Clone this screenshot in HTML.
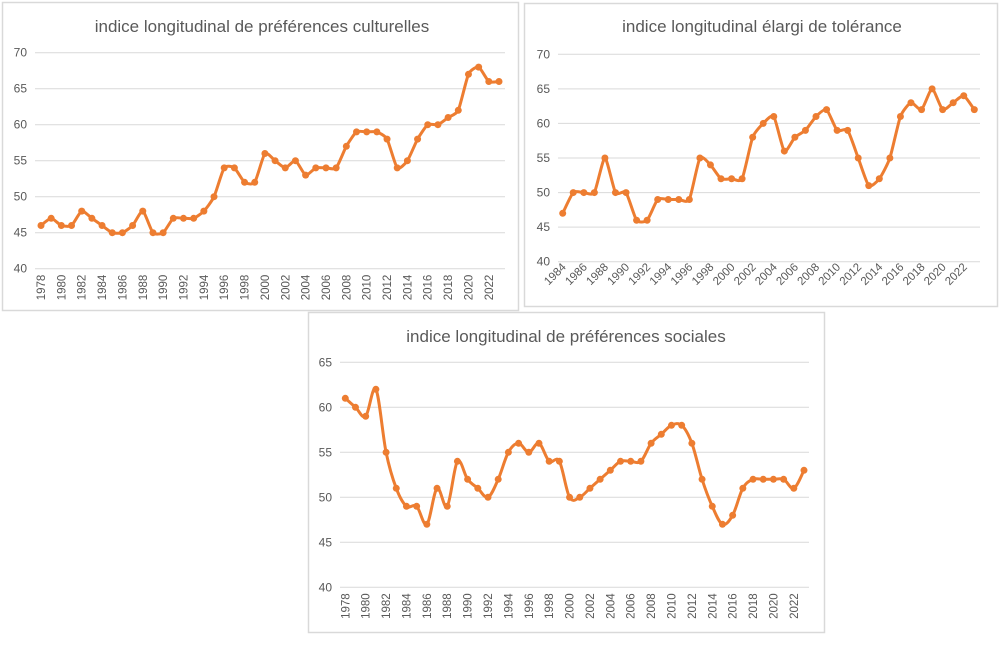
<!DOCTYPE html>
<html><head><meta charset="utf-8"><style>
body{margin:0;background:#fff;width:1000px;height:651px;overflow:hidden;font-family:"Liberation Sans",sans-serif}
svg{position:absolute;left:0;top:0}
</style></head><body>
<svg id="s" width="1000" height="651" xmlns="http://www.w3.org/2000/svg">
<rect x="0" y="0" width="1000" height="651" fill="#fff"/>
</svg>
<script>
const yearsA = [1978,1979,1980,1981,1982,1983,1984,1985,1986,1987,1988,1989,1990,1991,1992,1993,1994,1995,1996,1997,1998,1999,2000,2001,2002,2003,2004,2005,2006,2007,2008,2009,2010,2011,2012,2013,2014,2015,2016,2017,2018,2019,2020,2021,2022,2023];
const culturelles = [46,47,46,46,48,47,46,45,45,46,48,45,45,47,47,47,48,50,54,54,52,52,56,55,54,55,53,54,54,54,57,59,59,59,58,54,55,58,60,60,61,62,67,68,66,66];
const yearsB = [1984,1985,1986,1987,1988,1989,1990,1991,1992,1993,1994,1995,1996,1997,1998,1999,2000,2001,2002,2003,2004,2005,2006,2007,2008,2009,2010,2011,2012,2013,2014,2015,2016,2017,2018,2019,2020,2021,2022,2023];
const tolerance = [47,50,50,50,55,50,50,46,46,49,49,49,49,55,54,52,52,52,58,60,61,56,58,59,61,62,59,59,55,51,52,55,61,63,62,65,62,63,64,62];
const sociales = [61,60,59,62,55,51,49,49,47,51,49,54,52,51,50,52,55,56,55,56,54,54,50,50,51,52,53,54,54,54,56,57,58,58,56,52,49,47,48,51,52,52,52,52,51,53];
const ticksA = [40,45,50,55,60,65,70];
const ticksC = [40,45,50,55,60,65];

const NS='http://www.w3.org/2000/svg';
const svg=document.getElementById('s');
function mk(tag,attrs,parent){const e=document.createElementNS(NS,tag);for(const k in attrs)e.setAttribute(k,attrs[k]);(parent||svg).appendChild(e);return e;}

function chart(cfg){
  const g=mk('g',{});
  
  
  const box=mk('rect',{x:cfg.box[0]+0.5,y:cfg.box[1]+0.5,width:cfg.box[2],height:cfg.box[3],fill:'#fff',stroke:'#d9d9d9','stroke-width':1.5},g);
  
  
  const t=mk('text',{x:cfg.titleX,y:cfg.titleY,'text-anchor':'middle','font-size':'17','fill':'#595959'},g);
  t.textContent=cfg.title;
  
  
  const ymin=cfg.ticks[0],ymax=cfg.ticks[cfg.ticks.length-1];
  const sy=v=>cfg.yBot-(v-ymin)/(ymax-ymin)*(cfg.yBot-cfg.yTop);
  const n=cfg.years.length;
  const sx=i=>cfg.x0+i*(cfg.x1-cfg.x0)/(n-1);
  cfg.ticks.forEach(v=>{
    const l=mk('line',{x1:cfg.gx0,x2:cfg.gx1,y1:sy(v),y2:sy(v),stroke:'#d9d9d9','stroke-width':1},g);
    
    
    const tx=mk('text',{x:cfg.gx0-8,y:sy(v)+4,'text-anchor':'end','font-size':'12','fill':'#595959'},g);
    tx.textContent=v;
    
    
  });
  cfg.years.forEach((yr,i)=>{
    if(i%2) return;
    const x=sx(i), y=cfg.yBot+6;
    const tx=mk('text',{x:x+4,y:y,'font-size':'11.5','fill':'#595959','text-anchor':'end',
      transform: cfg.rot===90?`rotate(-90 ${x+4} ${y})`:`rotate(-45 ${x+4} ${y})`},g);
    tx.textContent=yr;
    
    
  });
  const pts=cfg.values.map((v,i)=>[sx(i),sy(v)]);
  let d='M'+pts[0][0]+','+pts[0][1];
  for(let i=0;i<pts.length-1;i++){
    const p0=pts[Math.max(0,i-1)],p1=pts[i],p2=pts[i+1],p3=pts[Math.min(pts.length-1,i+2)];
    const k=cfg.smooth/6;
    d+=` C${p1[0]+(p2[0]-p0[0])*k},${p1[1]+(p2[1]-p0[1])*k} ${p2[0]-(p3[0]-p1[0])*k},${p2[1]-(p3[1]-p1[1])*k} ${p2[0]},${p2[1]}`;
  }
  const path=mk('path',{d:d,fill:'none',stroke:'#ED7D31','stroke-width':3,'stroke-linejoin':'round'},g);
  
  
  pts.forEach(p=>{
    const c=mk('circle',{cx:p[0],cy:p[1],r:3.5,fill:'#ED7D31'},g);
    
    
  });
}
chart({name:'chart-culturelles',box:[2,2,516,308],title:'indice longitudinal de préférences culturelles',titleX:262,titleY:32,
  ticks:ticksA,years:yearsA,values:culturelles,x0:41,x1:499,yTop:52.7,yBot:268.7,gx0:35,gx1:505,rot:90,smooth:0.6});
chart({name:'chart-tolerance',box:[524,3,473,303],title:'indice longitudinal élargi de tolérance',titleX:762,titleY:32,
  ticks:ticksA,years:yearsB,values:tolerance,x0:562.7,x1:974.3,yTop:54.3,yBot:261.7,gx0:558,gx1:980,rot:45,smooth:0.6});
chart({name:'chart-sociales',box:[308,312,516,320],title:'indice longitudinal de préférences sociales',titleX:566,titleY:342,
  ticks:ticksC,years:yearsA,values:sociales,x0:345.3,x1:804,yTop:362.3,yBot:587.3,gx0:340,gx1:809,rot:90,smooth:1});
</script>
</body></html>
